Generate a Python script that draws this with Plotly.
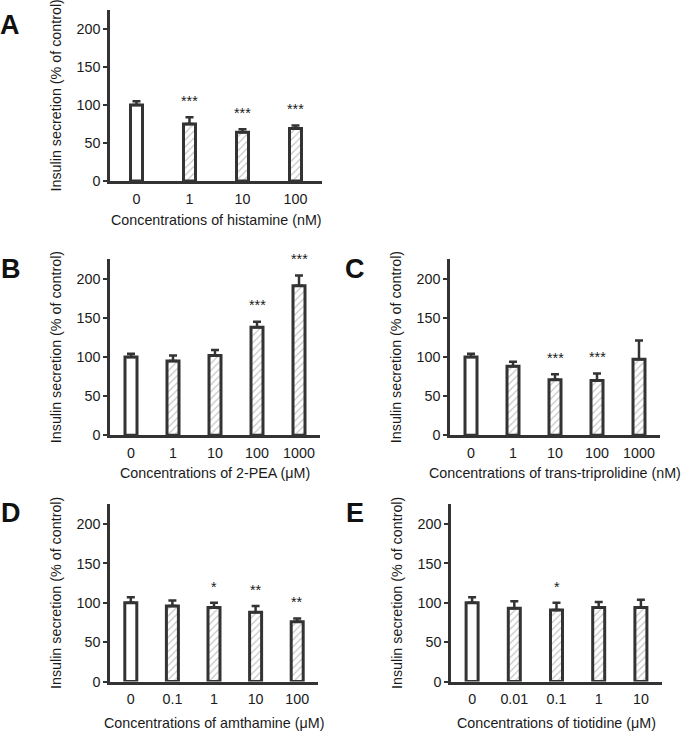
import plotly.graph_objects as go

W, H = 685, 738

# panel data
a_labels = ['0', '1', '10', '100']
a_values = [100, 75, 64, 69]
a_errors = [5, 9, 4, 4]
a_sig = ['', '***', '***', '***']

b_labels = ['0', '1', '10', '100', '1000']
b_values = [100, 95, 102, 138, 191]
b_errors = [4, 7, 7, 7, 13]
b_sig = ['', '', '', '***', '***']

c_labels = ['0', '1', '10', '100', '1000']
c_values = [100, 88, 71, 70, 97]
c_errors = [4, 6, 7, 9, 24]
c_sig = ['', '', '***', '***', '']

d_labels = ['0', '0.1', '1', '10', '100']
d_values = [100, 96, 94, 88, 76]
d_errors = [7, 7, 6, 8, 4]
d_sig = ['', '', '*', '**', '**']

e_labels = ['0', '0.01', '0.1', '1', '10']
e_values = [100, 93, 91, 94, 94]
e_errors = [7, 9, 9, 7, 10]
e_sig = ['', '', '*', '', '']

YTITLE = 'Insulin secretion (% of control)'

DARK = '#333333'
TXT = '#1a1a1a'
FONT = 'Arial, Liberation Sans, sans-serif'
FS = 14.3

fig = go.Figure()
annotations = []


def px_to_paper(x, y):
    return x / W, 1 - y / H


def add_panel(idx, letter, labels, values, errors, sig, xtitle, px_x, px_y, letter_pos, xtitle_y):
    # px_x = (left, right) of x axis, px_y = (bottom, top) of y axis, in pixels
    xa = 'x' if idx == 1 else f'x{idx}'
    ya = 'y' if idx == 1 else f'y{idx}'
    n = len(labels)
    cat_px = (px_x[1] - px_x[0]) / n
    fig.add_trace(go.Bar(
        x=labels, y=values, xaxis=xa, yaxis=ya,
        width=12 / cat_px,
        marker=dict(
            color='white',
            line=dict(color=DARK, width=3),
            pattern=dict(shape=[''] + ['/'] * (n - 1), fgcolor='#8c8c8c', bgcolor='white',
                         size=5, solidity=0.25),
        ),
        error_y=dict(type='data', array=errors, arrayminus=[0] * n, symmetric=False,
                     color=DARK, thickness=2.5, width=4),
        showlegend=False, hoverinfo='x+y',
    ))
    x0, y0 = px_to_paper(px_x[0], px_y[0])
    x1, y1 = px_to_paper(px_x[1], px_y[1])
    fig.layout[f'xaxis{"" if idx == 1 else idx}'] = dict(
        domain=[x0, x1], anchor=ya, type='category', range=[-0.5, n - 0.5],
        showline=True, linecolor=DARK, linewidth=2.5, ticks='', showgrid=False,
        tickfont=dict(size=FS, color=TXT), ticklabelstandoff=3,
    )
    fig.layout[f'yaxis{"" if idx == 1 else idx}'] = dict(
        domain=[y0, y1], anchor=xa, range=[0, 225], tickvals=[0, 50, 100, 150, 200],
        showline=True, linecolor=DARK, linewidth=2.5, ticks='outside', ticklen=4,
        tickwidth=2, tickcolor=DARK, showgrid=False, zeroline=False,
        tickfont=dict(size=FS, color=TXT),
    )
    # significance marks above the error bars
    for i, (v, e, s) in enumerate(zip(values, errors, sig)):
        if s:
            annotations.append(dict(
                x=i, y=v + e + 8, xref=xa, yref=ya, text=s, showarrow=False,
                yanchor='bottom', font=dict(size=FS, color=TXT),
            ))
    # axis titles
    tx, ty = px_to_paper((px_x[0] + px_x[1]) / 2, xtitle_y)
    annotations.append(dict(
        x=tx, y=ty, xref='paper', yref='paper', text=xtitle, showarrow=False,
        xanchor='center', yanchor='middle', font=dict(size=FS, color=TXT),
    ))
    tx, ty = px_to_paper(px_x[0] - 54, (px_y[0] + px_y[1]) / 2)
    annotations.append(dict(
        x=tx, y=ty, xref='paper', yref='paper', text=YTITLE, showarrow=False,
        textangle=-90, xanchor='center', yanchor='middle', font=dict(size=FS, color=TXT),
    ))
    lx, ly = px_to_paper(*letter_pos)
    annotations.append(dict(
        x=lx, y=ly, xref='paper', yref='paper',
        text=f'<b>{letter}</b>', showarrow=False, xanchor='center', yanchor='middle',
        font=dict(size=27, color='#111'),
    ))


add_panel(1, 'A', a_labels, a_values, a_errors, a_sig,
          'Concentrations of histamine (nM)', (110, 322), (183, 10), (10, 25), 222)
add_panel(2, 'B', b_labels, b_values, b_errors, b_sig,
          'Concentrations of 2-PEA (μM)', (110, 320), (440, 262), (11, 272), 478)
add_panel(3, 'C', c_labels, c_values, c_errors, c_sig,
          'Concentrations of trans-triprolidine (nM)', (450, 660), (440, 262), (355, 272), 478)
add_panel(4, 'D', d_labels, d_values, d_errors, d_sig,
          'Concentrations of amthamine (μM)', (110, 318), (689, 510), (11, 519), 731)
add_panel(5, 'E', e_labels, e_values, e_errors, e_sig,
          'Concentrations of tiotidine (μM)', (451, 662), (689, 510), (355, 519), 731)

fig.update_layout(
    width=W, height=H,
    margin=dict(l=0, r=0, t=0, b=0),
    paper_bgcolor='white', plot_bgcolor='white',
    font=dict(family=FONT, color=TXT),
    annotations=annotations,
)

# the page body has a default 8px margin; drop it so the figure sits at the window origin
fig.write_html('out.html', config={'displayModeBar': False},
               post_script="document.body.style.margin='0';")
